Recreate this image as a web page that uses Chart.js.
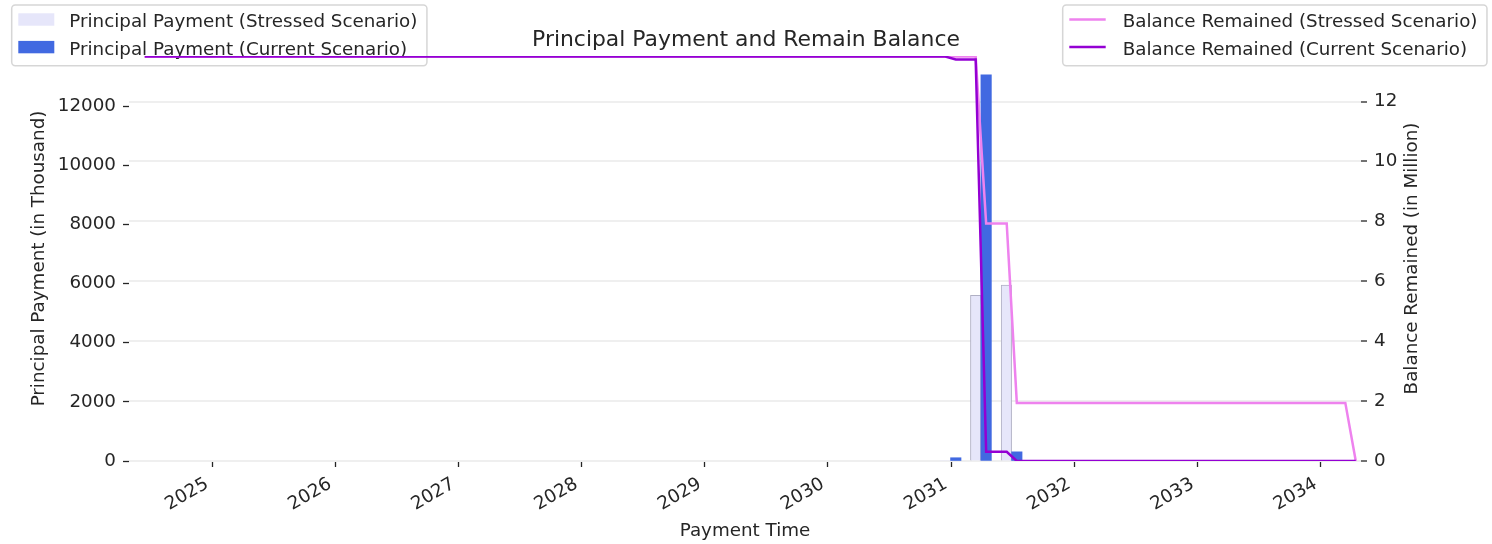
<!DOCTYPE html>
<html>
<head>
<meta charset="utf-8">
<title>Principal Payment and Remain Balance</title>
<script src="https://cdn.jsdelivr.net/npm/chart.js@4.4.1/dist/chart.umd.min.js"></script>
<style>
  html, body { margin: 0; padding: 0; background: #fff; }
  #wrap { width: 1492px; height: 544px; }
</style>
</head>
<body>
<div id="wrap"><canvas id="chart" width="1492" height="544"></canvas></div>
<script>
// balance line: dates where the line bends (million)
const balanceDates = ['2024-06-15', '2030-12-15', '2031-01-15', '2031-03-15', '2031-04-15',
                      '2031-06-15', '2031-07-15', '2034-03-15', '2034-04-15'];
const stressedBalance = [13.5, 13.5, 13.5, 13.5, 7.93, 7.93, 1.94, 1.94, 0];
const currentBalance  = [13.5, 13.5, 13.4, 13.4, 0.31, 0.31, 0, 0, 0];

// principal payments (thousand)
const paymentDates = ['2031-01-15', '2031-04-15', '2031-07-15'];
const stressedPayment = [0, 5600, 5950];
const currentPayment  = [110, 13060, 310];

// tick labels
const yearTicks  = [2025, 2026, 2027, 2028, 2029, 2030, 2031, 2032, 2033, 2034];
const leftTicks  = [0, 2000, 4000, 6000, 8000, 10000, 12000];
const rightTicks = [0, 2, 4, 6, 8, 10, 12];

const DAY = 86400000;
const BAR_DAYS = 31;           // bar width, stressed bar sits one width to the left
const PLOT_LEFT = 129, PLOT_RIGHT = 1361, PLOT_BOTTOM = 461;
const TEXT = '#262626';
const FONT = "'DejaVu Sans', sans-serif";
const FS = 18.3;

const t = s => Date.parse(s + 'T00:00:00Z');
const xMin = t(balanceDates[0]) - 1.5 * BAR_DAYS * DAY;
const xMax = t(balanceDates[balanceDates.length - 1]) + 0.5 * BAR_DAYS * DAY;
const barPx = (PLOT_RIGHT - PLOT_LEFT) * BAR_DAYS * DAY / (xMax - xMin);

Chart.defaults.font.family = FONT;
Chart.defaults.color = TEXT;

// 兩個圖例 + 右軸標題
function drawLegendBox(chart, idx, x, y, textOff) {
  const ctx = chart.ctx;
  const ds = chart.data.datasets;
  ctx.save();
  ctx.font = FS + 'px ' + FONT;
  const tw = Math.max(...idx.map(i => ctx.measureText(ds[i].label).width));
  const w = textOff + tw + 9.5, h = 60.7;
  ctx.beginPath();
  if (ctx.roundRect) ctx.roundRect(x, y, w, h, 3.6); else ctx.rect(x, y, w, h);
  ctx.fillStyle = 'rgba(255,255,255,0.8)';
  ctx.fill();
  ctx.strokeStyle = 'rgba(204,204,204,0.8)';
  ctx.lineWidth = 1.5;
  ctx.stroke();
  idx.forEach((di, row) => {
    const d = ds[di];
    const cy = y + 14.5 + row * 27.6;
    if (d.type === 'bar') {
      ctx.fillStyle = d.backgroundColor;
      ctx.fillRect(x + 6.6, cy - 6.2, 36, 12.4);
    } else {
      ctx.beginPath();
      ctx.moveTo(x + 6.6, cy);
      ctx.lineTo(x + 43, cy);
      ctx.strokeStyle = d.borderColor;
      ctx.lineWidth = d.borderWidth;
      ctx.stroke();
    }
    ctx.fillStyle = TEXT;
    ctx.textBaseline = 'alphabetic';
    ctx.textAlign = 'left';
    ctx.fillText(d.label, x + textOff, y + 22.3 + row * 27.6);
  });
  ctx.restore();
}

const twinLegend = {
  id: 'twinLegend',
  beforeDatasetsDraw(chart) {
    drawLegendBox(chart, [0, 1], 11.7, 5, 57.6);
  },
  afterDatasetsDraw(chart) {
    drawLegendBox(chart, [2, 3], 1062.7, 5, 60);
  },
  afterDraw(chart) {
    const ctx = chart.ctx, area = chart.chartArea;
    ctx.save();
    ctx.translate(1412, (area.top + area.bottom) / 2);
    ctx.rotate(-Math.PI / 2);
    ctx.font = FS + 'px ' + FONT;
    ctx.fillStyle = TEXT;
    ctx.textAlign = 'center';
    ctx.textBaseline = 'middle';
    ctx.fillText('Balance Remained (in Million)', 0, 0);
    ctx.restore();
  }
};

const tickGrid = { offset: false, drawOnChartArea: false, tickLength: 6, tickWidth: 1.3, tickColor: TEXT };

new Chart(document.getElementById('chart'), {
  type: 'bar',
  data: {
    datasets: [
      {
        type: 'bar',
        label: 'Principal Payment (Stressed Scenario)',
        data: paymentDates.map((d, i) => ({ x: t(d), y: stressedPayment[i] })),
        xAxisID: 'xs',
        yAxisID: 'y',
        backgroundColor: '#e6e6fa',
        borderColor: '#b0b0c4',
        borderWidth: c => (c.raw && c.raw.y > 0 ? 1 : 0),
        borderSkipped: 'start',
        grouped: false,
        barThickness: barPx,
        order: 4
      },
      {
        type: 'bar',
        label: 'Principal Payment (Current Scenario)',
        data: paymentDates.map((d, i) => ({ x: t(d), y: currentPayment[i] })),
        xAxisID: 'x',
        yAxisID: 'y',
        backgroundColor: '#4169e1',
        borderWidth: 0,
        grouped: false,
        barThickness: barPx,
        order: 3
      },
      {
        type: 'line',
        label: 'Balance Remained (Stressed Scenario)',
        data: balanceDates.map((d, i) => ({ x: t(d), y: stressedBalance[i] })),
        xAxisID: 'x',
        yAxisID: 'y2',
        borderColor: '#ee82ee',
        borderWidth: 2.5,
        pointRadius: 0,
        tension: 0,
        order: 2
      },
      {
        type: 'line',
        label: 'Balance Remained (Current Scenario)',
        data: balanceDates.map((d, i) => ({ x: t(d), y: currentBalance[i] })),
        xAxisID: 'x',
        yAxisID: 'y2',
        borderColor: '#9400d3',
        borderWidth: 2.5,
        pointRadius: 0,
        tension: 0,
        order: 1
      }
    ]
  },
  options: {
    responsive: false,
    animation: false,
    devicePixelRatio: 1,
    layout: { padding: 0 },
    plugins: {
      legend: { display: false },
      tooltip: { enabled: false },
      title: {
        display: true,
        text: 'Principal Payment and Remain Balance',
        color: TEXT,
        font: { size: 21.9, weight: 'normal' },
        padding: { top: 26.7, bottom: 3.0 }
      }
    },
    scales: {
      x: {
        type: 'linear',
        position: 'bottom',
        min: xMin,
        max: xMax,
        offset: false,
        afterBuildTicks: s => { s.ticks = yearTicks.map(y => ({ value: Date.UTC(y, 0, 1) })); },
        afterFit: s => { s.height = 544 - PLOT_BOTTOM; },
        ticks: {
          autoSkip: false,
          minRotation: 30,
          maxRotation: 30,
          padding: 6.3,
          labelOffset: -5,
          color: TEXT,
          font: { size: FS },
          callback: (v, i) => String(yearTicks[i])
        },
        grid: tickGrid,
        border: { display: false },
        title: {
          display: true,
          text: 'Payment Time',
          color: TEXT,
          font: { size: FS },
          padding: { top: 0, bottom: 1.8 }
        }
      },
      xs: {
        type: 'linear',
        axis: 'x',
        position: 'bottom',
        display: false,
        min: xMin + BAR_DAYS * DAY,
        max: xMax + BAR_DAYS * DAY,
        offset: false,
        grid: { offset: false }
      },
      y: {
        type: 'linear',
        position: 'left',
        min: 0,
        max: 13700,
        afterBuildTicks: s => { s.ticks = leftTicks.map(v => ({ value: v })); },
        afterFit: s => { s.width = PLOT_LEFT; },
        ticks: { padding: 7, color: TEXT, font: { size: FS }, callback: v => String(v) },
        grid: tickGrid,
        border: { display: false },
        title: {
          display: true,
          text: 'Principal Payment (in Thousand)',
          color: TEXT,
          font: { size: FS },
          padding: { top: 28, bottom: 0 }
        }
      },
      y2: {
        type: 'linear',
        position: 'right',
        min: 0,
        max: 13.52,
        afterBuildTicks: s => { s.ticks = rightTicks.map(v => ({ value: v })); },
        afterFit: s => { s.width = 1492 - PLOT_RIGHT; },
        ticks: { padding: 7, color: TEXT, font: { size: FS }, callback: v => String(v) },
        grid: {
          drawOnChartArea: true,
          color: '#efefef',
          lineWidth: 2,
          tickLength: 6,
          tickWidth: 1.3,
          tickColor: TEXT
        },
        border: { display: false },
        title: { display: false }
      }
    }
  },
  plugins: [twinLegend]
});
</script>
</body>
</html>
